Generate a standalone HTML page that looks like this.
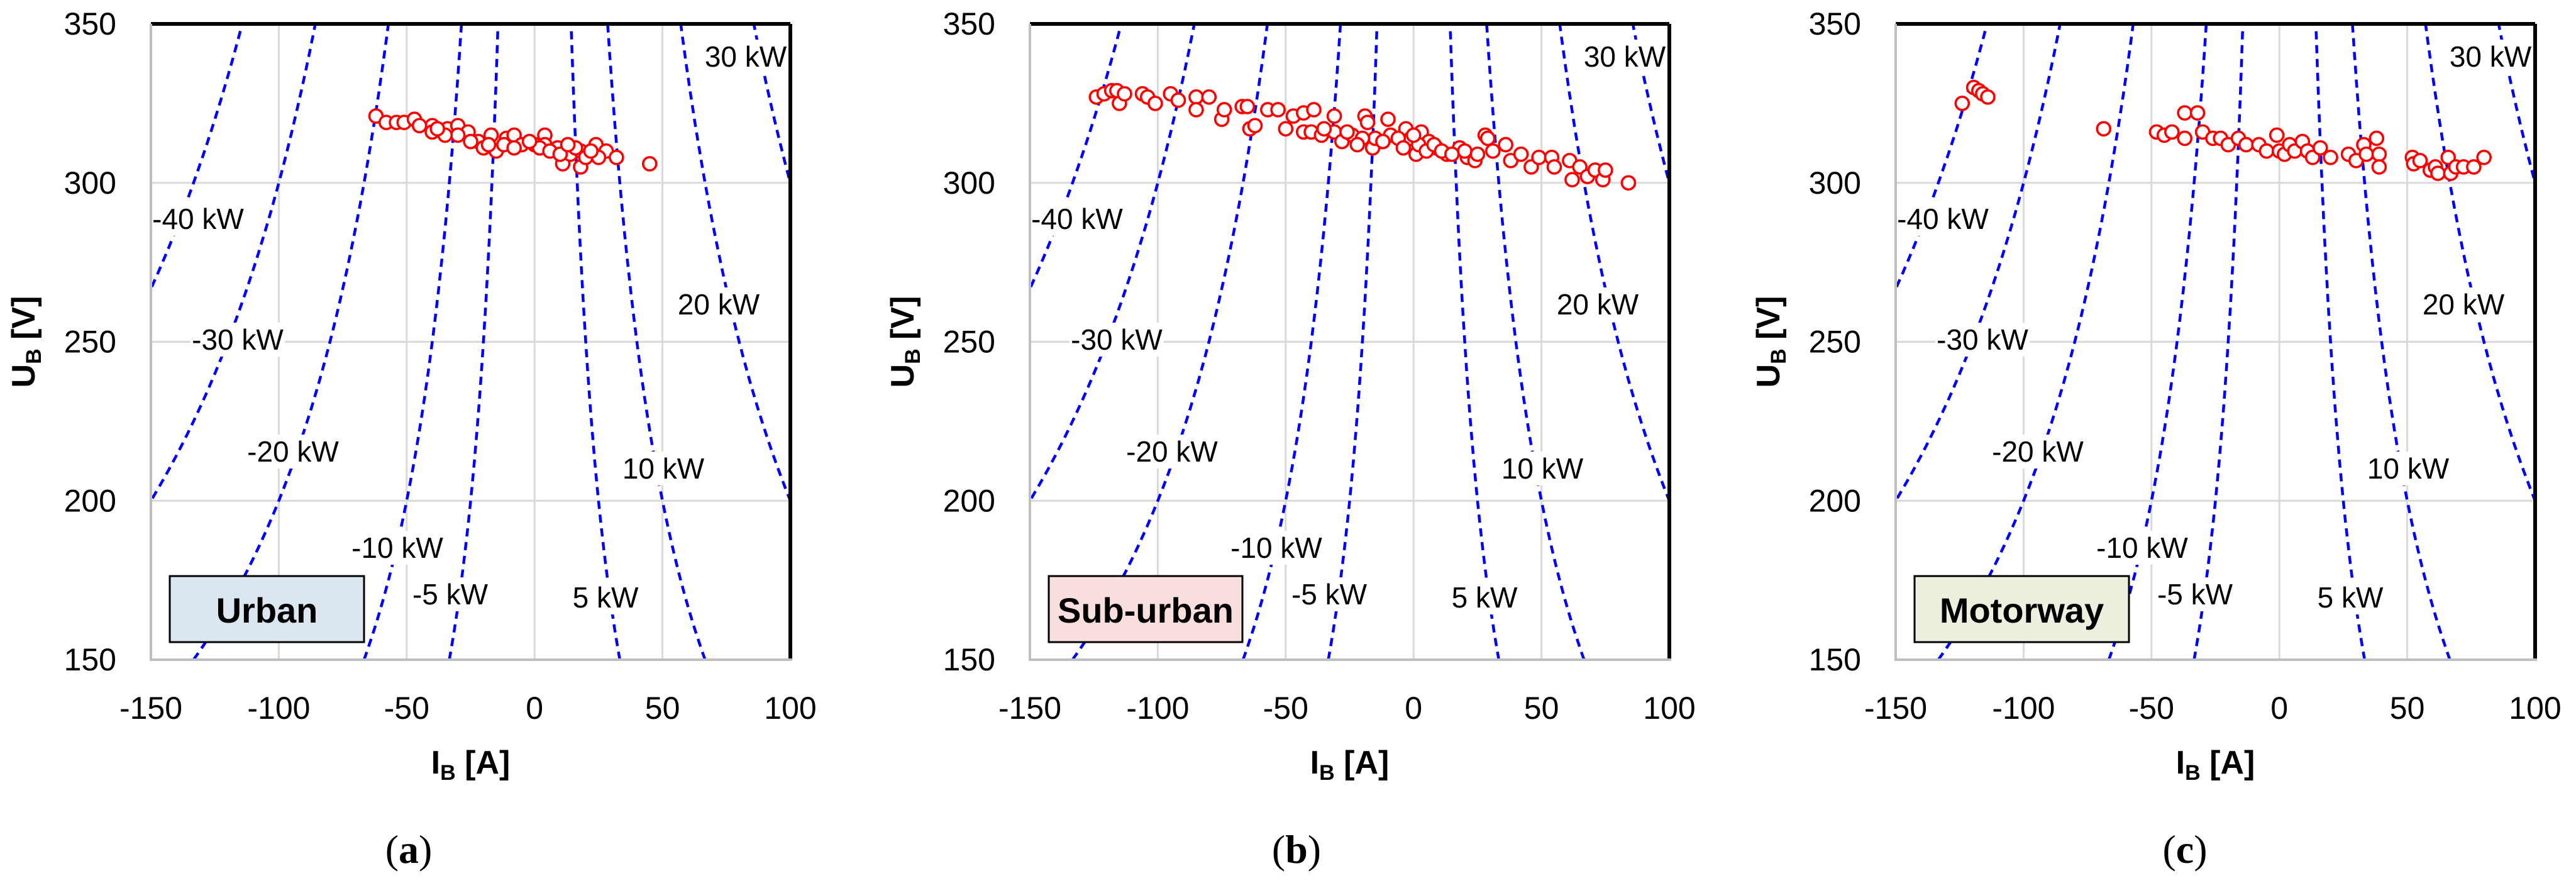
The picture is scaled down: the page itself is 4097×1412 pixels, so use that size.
<!DOCTYPE html>
<html><head><meta charset="utf-8"><style>
html,body{margin:0;padding:0;background:#fff;}
svg{display:block;}
text{font-family:"Liberation Sans",sans-serif;}
</style></head>
<body>
<svg id="fig" width="4097" height="1412" viewBox="0 0 4097 1412" xmlns="http://www.w3.org/2000/svg"></svg>
<script>
// ---- data ----
const xTicks = [-150,-100,-50,0,50,100];
const yTicks = [150,200,250,300,350];
const powerLevels = [-40,-30,-20,-10,-5,5,10,20,30];
const powerLabels = ["-40 kW","-30 kW","-20 kW","-10 kW","-5 kW","5 kW","10 kW","20 kW","30 kW"];
const panelTitles = ["Urban","Sub-urban","Motorway"];
const panelLetters = ["a","b","c"];
const urbanI = [-62,-58,-54,-51,-47,-40,-40,-34,-30,-26,-22,-17,-11,-8,-5,0,4,4,9,11,14,18,18,24,28,32,45,-20,-15,-12,-25,-30,-35,2,6,10,16,20,25,22,-18,-8,-2,13,-45,-38];
const urbanU = [321,319,319,319,320,318,316,317,318,316,313,315,314,315,312,312,315,312,311,306,309,310,305,312,310,308,306,311,310,312,313,315,315,311,310,309,311,308,308,310,312,311,313,312,318,317];
const suburbI = [-124,-121,-118,-116,-115,-113,-106,-104,-101,-95,-92,-85,-85,-80,-75,-74,-67,-65,-64,-62,-57,-53,-50,-47,-43,-43,-39,-40,-36,-31,-31,-28,-24,-19,-18,-16,-15,-10,-9,-3,-1,1,3,6,9,13,18,21,24,28,29,31,36,38,42,46,49,54,55,61,62,65,68,71,74,75,84,-35,-26,-20,-12,-6,-4,2,5,8,11,15,20,25,-22,0];
const suburbU = [327,328,329,329,325,328,328,327,325,328,326,327,323,327,320,323,324,324,317,318,323,323,317,321,322,316,323,316,315,321,316,313,315,321,319,311,314,320,315,317,314,309,316,313,311,309,311,308,307,315,314,310,312,307,309,305,308,308,305,307,301,305,302,304,301,304,300,317,316,314,313,314,311,312,310,312,310,309,310,309,312,315];
const motorI = [-124,-119.5,-117.5,-116,-114,-68.7,-48,-45,-42,-37,-37,-32,-30,-26,-23,-20,-16,-13,-8,-5,-1,0,2,4,6,9,11,13,16,20,27,30,33,34,38,39,39,52,52.5,55,59,61,62,66,67,69,72,76,80];
const motorU = [325,330,329,328,327,317,316,315,316,314,322,322,316,314,314,312,314,312,312,310,315,310,309,312,310,313,310,308,311,308,309,307,312,309,314,309,305,308,306,307,304,305,303,308,303,305,305,305,308];
const seriesI = [urbanI, suburbI, motorI];
const seriesU = [urbanU, suburbU, motorU];

// ---- layout ----
const NS = "http://www.w3.org/2000/svg";
const svg = document.getElementById('fig');
const panelLeft = [240,1638,3015];
const TOP = 38, W = 1017, H = 1011;
const xMin=-150,xMax=100,yMin=150,yMax=350;
const boxW = [309,308,341];
const boxFill = ["#dce6f1","#f9dede","#ebf1de"];
const letterX = [650,2062,3475];
const labelPos = [[75,310],[138,502],[226,680],[392,833],[476,907],[723,912],[815,707],[903,446],[946,52]];

function mk(tag, attrs, parent){
  const e = document.createElementNS(NS, tag);
  for (const k in attrs) e.setAttribute(k, attrs[k]);
  (parent||svg).appendChild(e);
  return e;
}

panelTitles.forEach((title, p) => {
  const L = panelLeft[p];
  const sx = v => L + (v - xMin) / (xMax - xMin) * W;
  const sy = v => TOP + (yMax - v) / (yMax - yMin) * H;
  const g = mk('g', {});
  
  

  xTicks.forEach(t => {
    if (t === xMin || t === xMax) return;
    const l = mk('line', {x1:sx(t), x2:sx(t), y1:TOP, y2:TOP+H, stroke:'#d9d9d9', 'stroke-width':3}, g);
    
    
  });
  yTicks.forEach(t => {
    if (t === yMin || t === yMax) return;
    const l = mk('line', {x1:L, x2:L+W, y1:sy(t), y2:sy(t), stroke:'#d9d9d9', 'stroke-width':3}, g);
    
    
  });

  const clip = mk('clipPath', {id:'clip'+p}, g);
  mk('rect', {x:L, y:TOP, width:W, height:H}, clip);
  powerLevels.forEach((P, k) => {
    let d = '';
    for (let u = yMin; u <= yMax + 0.01; u += 2) {
      const i = P * 1000 / u;
      d += (d ? 'L' : 'M') + sx(i).toFixed(1) + ',' + sy(u).toFixed(1);
    }
    const c = mk('path', {d:d, fill:'none', stroke:'#0000ff', 'stroke-width':4.5, 'stroke-dasharray':'13 9', 'clip-path':'url(#clip'+p+')'}, g);
    
    
  });
  powerLabels.forEach((lab, k) => {
    const cx = L + labelPos[k][0], cy = TOP + labelPos[k][1];
    const w = lab.length * 24 + 6;
    mk('rect', {x:cx - w/2, y:cy - 27, width:w, height:54, fill:'#fff'}, g);
    const t = mk('text', {x:cx, y:cy + 16, 'font-size':46, 'text-anchor':'middle', fill:'#000'}, g);
    t.textContent = lab;
    
    
  });

  mk('line', {x1:L, x2:L+W, y1:TOP, y2:TOP, stroke:'#000', 'stroke-width':6}, g);
  mk('line', {x1:L+W, x2:L+W, y1:TOP, y2:TOP+H, stroke:'#000', 'stroke-width':6}, g);
  const ax = mk('line', {x1:L, x2:L, y1:TOP, y2:TOP+H+2, stroke:'#bfbfbf', 'stroke-width':4}, g);
  
  
  const bx = mk('line', {x1:L, x2:L+W+3, y1:TOP+H, y2:TOP+H, stroke:'#bfbfbf', 'stroke-width':4}, g);
  
  

  const br = mk('rect', {x:L+30, y:916, width:boxW[p], height:105, fill:boxFill[p], stroke:'#000', 'stroke-width':3}, g);
  
  
  const bt = mk('text', {x:L+30+boxW[p]/2, y:990, 'font-size':56, 'font-weight':'bold', 'text-anchor':'middle'}, g);
  bt.textContent = title;
  
  

  seriesI[p].forEach((iv, n) => {
    const c = mk('circle', {cx:sx(iv), cy:sy(seriesU[p][n]), r:10.5, fill:'#fff', stroke:'#ff0000', 'stroke-width':3.6}, g);
    
    
  });

  xTicks.forEach(t => {
    const e = mk('text', {x:sx(t), y:1143, 'font-size':50, 'text-anchor':'middle'}, g);
    e.textContent = t;
    
    
  });
  yTicks.forEach(t => {
    const e = mk('text', {x:L-55, y:sy(t)+17, 'font-size':50, 'text-anchor':'end'}, g);
    e.textContent = t;
    
    
  });

  const xt = mk('text', {x:L+W/2, y:1230, 'font-size':52, 'font-weight':'bold', 'text-anchor':'middle'}, g);
  xt.innerHTML = 'I<tspan font-size="34" dy="10">B</tspan><tspan dy="-10"> [A]</tspan>';
  
  
  const yx = L - 185, yy = TOP + H/2;
  const yt = mk('text', {x:yx, y:yy, 'font-size':52, 'font-weight':'bold', 'text-anchor':'middle', transform:'rotate(-90 '+yx+' '+yy+')'}, g);
  yt.innerHTML = 'U<tspan font-size="34" dy="10">B</tspan><tspan dy="-10"> [V]</tspan>';
  
  

  const pl = mk('text', {x:letterX[p], y:1372, 'font-size':64, 'text-anchor':'middle', style:'font-family:"Liberation Serif",serif'}, g);
  pl.innerHTML = '(<tspan font-weight="bold">' + panelLetters[p] + '</tspan>)';
  
  
});
</script>
</body></html>
